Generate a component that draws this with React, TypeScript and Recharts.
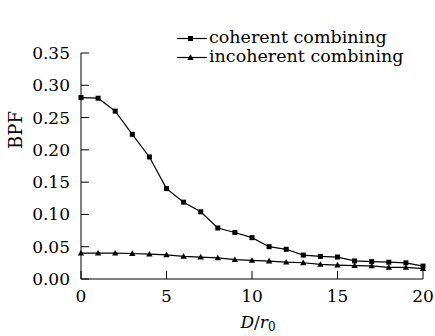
import React from "react";
import { LineChart, Line, XAxis, YAxis, Legend } from "recharts";

const dRatio = [0, 1, 2, 3, 4, 5, 6, 7, 8, 9, 10, 11, 12, 13, 14, 15, 16, 17, 18, 19, 20];
const coherent = [
  0.281, 0.28, 0.26, 0.224, 0.189, 0.14, 0.119, 0.104, 0.079, 0.072, 0.064,
  0.05, 0.046, 0.037, 0.035, 0.034, 0.028, 0.027, 0.026, 0.025, 0.02,
];
const incoherent = [
  0.04, 0.04, 0.04, 0.0395, 0.0385, 0.0375, 0.035, 0.034, 0.0327, 0.03, 0.0287,
  0.0278, 0.026, 0.0252, 0.0225, 0.0216, 0.0207, 0.0203, 0.018, 0.018, 0.016,
];
const xTicks = [0, 5, 10, 15, 20];
const yTicks = [0, 0.05, 0.1, 0.15, 0.2, 0.25, 0.3, 0.35];

const FONT = "'DejaVu Serif', serif";

const data = dRatio.map((d, i) => ({ d, coherent: coherent[i], incoherent: incoherent[i] }));

const SquareDot = (props: any) => {
  const { cx, cy, index } = props;
  return <rect key={`s${index}`} x={cx - 2.5} y={cy - 2.5} width={5} height={5} fill="#000" />;
};

const TriangleDot = (props: any) => {
  const { cx, cy, index } = props;
  return (
    <polygon
      key={`t${index}`}
      points={`${cx},${cy - 3.2} ${cx - 3.2},${cy + 2.4} ${cx + 3.2},${cy + 2.4}`}
      fill="#000"
    />
  );
};

const LegendContent = () => {
  const rows = [
    { name: "coherent combining", shape: "square" },
    { name: "incoherent combining", shape: "triangle" },
  ];
  return (
    <div style={{ fontFamily: FONT, fontSize: 17.5, color: "#000", lineHeight: "19px" }}>
      {rows.map((r) => (
        <div key={r.name} style={{ display: "flex", alignItems: "center" }}>
          <svg width={32} height={19}>
            <line x1={0} y1={10.5} x2={30} y2={10.5} stroke="#000" strokeWidth={1.2} />
            {r.shape === "square" ? (
              <rect x={11} y={8} width={5} height={5} fill="#000" />
            ) : (
              <polygon points="13.5,7.3 10.3,12.9 16.7,12.9" fill="#000" />
            )}
          </svg>
          <span>{r.name}</span>
        </div>
      ))}
    </div>
  );
};

const XLabel = (props: any) => {
  const { viewBox } = props;
  const cx = viewBox.x + viewBox.width / 2 + 6;
  return (
    <text x={cx} y={328} textAnchor="middle" fontFamily={FONT} fontSize={17} fill="#000">
      <tspan fontStyle="italic">D</tspan>
      <tspan>/</tspan>
      <tspan fontStyle="italic">r</tspan>
      <tspan fontSize={12} dy={3}>0</tspan>
    </text>
  );
};

const YLabel = () => (
  <text
    x={22}
    y={130}
    transform="rotate(-90 22 130)"
    textAnchor="middle"
    fontFamily={FONT}
    fontSize={18}
    fill="#000"
  >
    BPF
  </text>
);

export default function App() {
  return (
    <div style={{ position: "fixed", left: 0, top: 0, background: "#fff" }}>
      <LineChart width={435} height={336} data={data} margin={{ top: 15, right: 12, bottom: 0, left: 0 }}>
        <XAxis
          dataKey="d"
          type="number"
          domain={[0, 20]}
          ticks={xTicks}
          stroke="#000"
          tickSize={-8}
          tickMargin={19}
          height={57}
          tick={{ fill: "#000", fontFamily: FONT, fontSize: 17 }}
          label={<XLabel />}
        />
        <YAxis
          type="number"
          domain={[0, 0.35]}
          ticks={yTicks}
          stroke="#000"
          tickSize={-8}
          tickMargin={19}
          width={81}
          tickFormatter={(v: number) => v.toFixed(2)}
          tick={{ fill: "#000", fontFamily: FONT, fontSize: 17 }}
          label={<YLabel />}
        />
        <Legend
          verticalAlign="top"
          content={<LegendContent />}
          wrapperStyle={{ position: "absolute", left: 177, top: 28, width: "auto" }}
        />
        <Line
          dataKey="coherent"
          stroke="#000"
          strokeWidth={1.2}
          dot={<SquareDot />}
          activeDot={false}
          isAnimationActive={false}
        />
        <Line
          dataKey="incoherent"
          stroke="#000"
          strokeWidth={1.2}
          dot={<TriangleDot />}
          activeDot={false}
          isAnimationActive={false}
        />
      </LineChart>
    </div>
  );
}
